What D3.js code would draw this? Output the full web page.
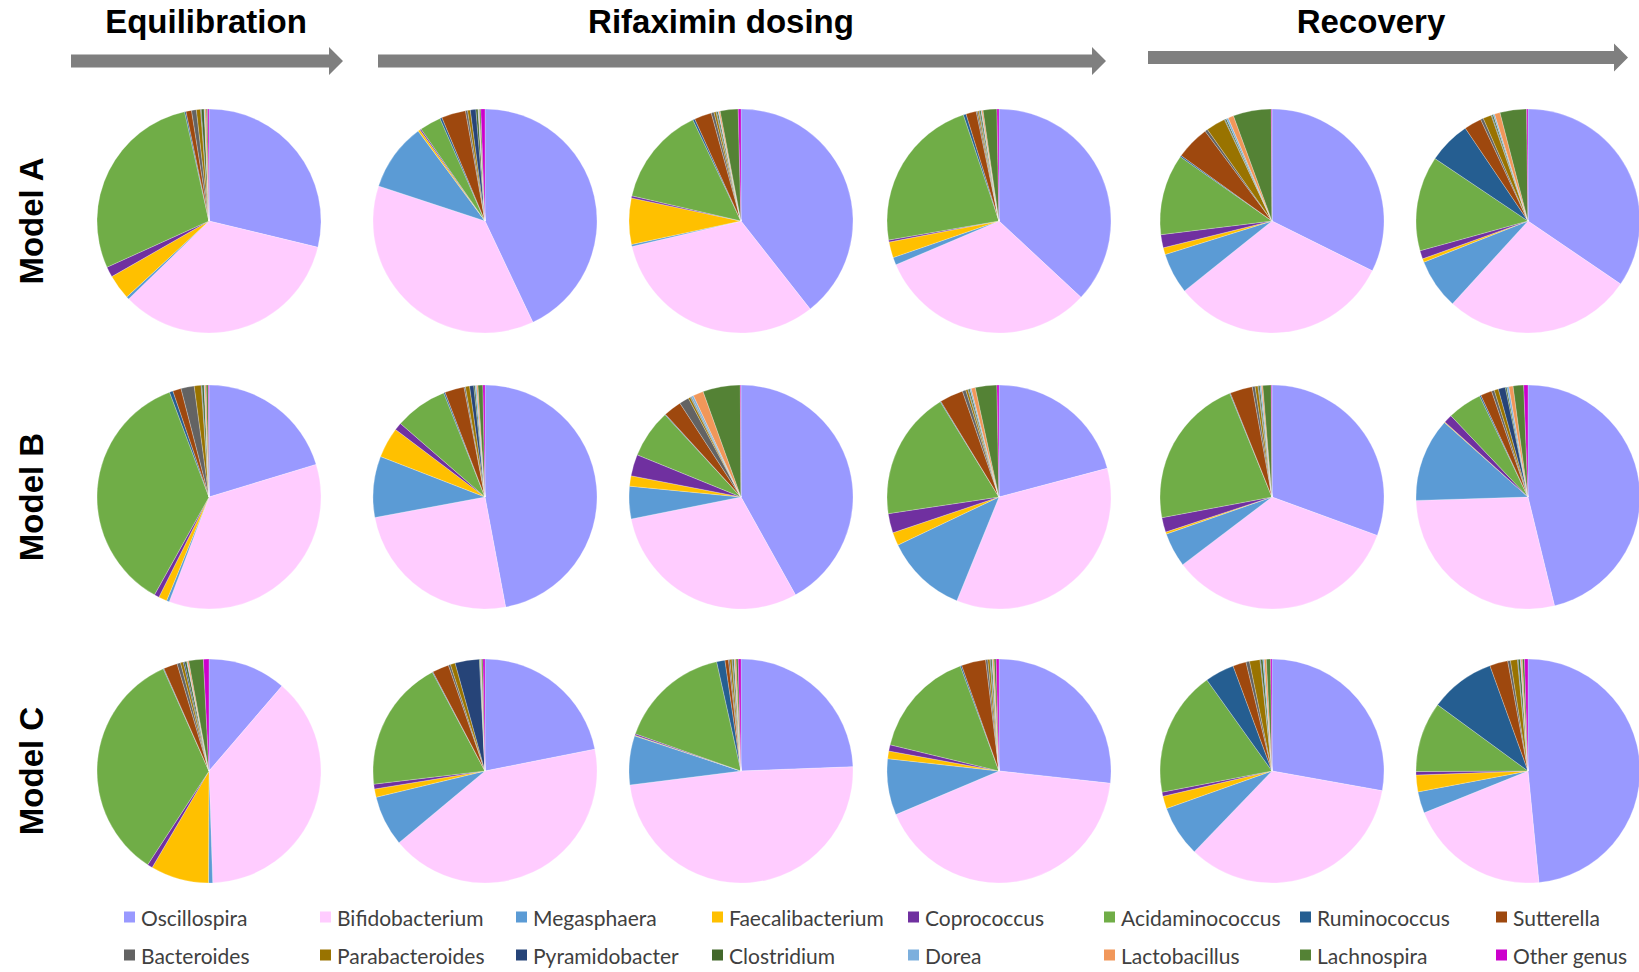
<!DOCTYPE html>
<html>
<head>
<meta charset="utf-8">
<script src="https://cdn.jsdelivr.net/npm/d3@7/dist/d3.min.js"></script>
<style>
  html, body { margin: 0; padding: 0; background: #fff; }
  svg { display: block; }
</style>
</head>
<body>
<svg id="chart" width="1639" height="972"></svg>
<script>
// Genera, in slice order (clockwise from 12 o'clock) and legend order
const genera = ["Oscillospira", "Bifidobacterium", "Megasphaera", "Faecalibacterium",
  "Coprococcus", "Acidaminococcus", "Ruminococcus", "Sutterella",
  "Bacteroides", "Parabacteroides", "Pyramidobacter", "Clostridium",
  "Dorea", "Lactobacillus", "Lachnospira", "Other genus"];

const generaColors = ["#9999ff", "#ffccff", "#5b9bd5", "#ffc000",
  "#7030a0", "#70ad47", "#255e91", "#9e480e",
  "#636363", "#997300", "#264478", "#43682b",
  "#7cafdd", "#f1975a", "#548235", "#cc00cc"];

const stages = ["Equilibration", "Rifaximin dosing", "Recovery"];
const models = ["Model A", "Model B", "Model C"];

// Relative abundance (%) per sample: six time points per model
const modelA = [
  [28.8, 34.0, 0.4, 3.6, 1.5, 28.3, 0.2, 0.8, 0.7, 0.6, 0.1, 0.4, 0.1, 0.2, 0.2, 0.2],
  [43.1, 37.2, 9.8, 0.3, 0.2, 3.1, 0.3, 3.5, 0.3, 0.4, 0.8, 0.3, 0.1, 0.1, 0.2, 0.6],
  [39.6, 32.1, 0.3, 6.7, 0.3, 14.4, 0.3, 2.5, 0.4, 0.3, 0.1, 0.2, 0.1, 0.2, 2.6, 0.4],
  [37.3, 32.0, 1.1, 2.3, 0.3, 22.8, 0.4, 1.5, 0.2, 0.2, 0.1, 0.2, 0.1, 0.2, 2.0, 0.3],
  [32.4, 32.0, 5.9, 1.0, 1.9, 11.7, 0.2, 4.9, 0.4, 2.8, 0.1, 0.2, 0.3, 0.8, 5.5, 0.1],
  [34.3, 27.1, 7.2, 0.5, 1.2, 13.6, 6.1, 2.5, 0.4, 1.2, 0.1, 0.2, 0.2, 0.8, 3.8, 0.2]
];
const modelB = [
  [20.2, 35.3, 0.4, 1.2, 0.7, 36.0, 0.5, 1.2, 1.9, 1.0, 0.1, 0.3, 0.1, 0.2, 0.3, 0.1],
  [47.0, 25.0, 8.8, 4.4, 1.1, 7.6, 0.2, 2.8, 0.2, 0.6, 0.6, 0.2, 0.2, 0.2, 0.7, 0.3],
  [42.0, 30.0, 4.7, 1.5, 3.1, 7.0, 0.1, 2.6, 1.4, 0.3, 0.1, 0.1, 0.3, 1.5, 5.4, 0.1],
  [20.9, 35.3, 11.8, 1.9, 2.8, 18.6, 0.1, 3.4, 0.5, 0.3, 0.1, 0.2, 0.2, 0.6, 3.1, 0.3],
  [30.3, 33.8, 4.9, 0.3, 2.1, 21.6, 0.1, 3.2, 0.4, 0.4, 0.1, 0.2, 0.2, 0.2, 1.2, 0.1],
  [45.5, 27.9, 11.9, 0.1, 1.2, 4.9, 0.2, 1.6, 0.4, 0.6, 1.0, 0.2, 0.3, 0.6, 1.5, 0.6]
];
const modelC = [
  [11.3, 38.2, 0.6, 8.4, 0.75, 34.1, 0.1, 2.0, 0.5, 0.4, 0.2, 0.3, 0.1, 0.2, 2.1, 0.8],
  [21.9, 42.1, 7.3, 1.2, 0.7, 19.1, 0.1, 2.4, 0.3, 0.7, 3.5, 0.1, 0.1, 0.1, 0.2, 0.3],
  [24.5, 48.8, 7.1, 0.1, 0.2, 16.2, 1.2, 0.5, 0.2, 0.3, 0.1, 0.2, 0.1, 0.2, 0.3, 0.4],
  [26.7, 41.8, 8.1, 1.1, 0.9, 15.6, 0.2, 3.5, 0.3, 0.3, 0.1, 0.2, 0.1, 0.2, 0.3, 0.4],
  [27.6, 34.1, 7.3, 1.8, 0.6, 18.0, 4.2, 1.9, 0.5, 1.5, 0.1, 0.3, 0.2, 0.3, 0.6, 0.2],
  [48.3, 20.4, 3.1, 2.4, 0.5, 10.1, 9.4, 2.6, 0.4, 1.0, 0.1, 0.3, 0.1, 0.2, 0.3, 0.5]
];

const modelData = [modelA, modelB, modelC];

// ---- layout ----
const svg = d3.select("#chart");
const colX = [209, 485, 741, 999, 1272, 1528];
const rowY = [221, 497, 771];
const radius = 112;

const color = d3.scaleOrdinal().domain(genera).range(generaColors);
const pie = d3.pie().sort(null).value(d => d.v);
const arc = d3.arc().innerRadius(0).outerRadius(radius);

// Pies
modelData.forEach((samples, r) => {
  samples.forEach((vals, c) => {
    const g = svg.append("g")
      .attr("class", "pie")
      .attr("transform", `translate(${colX[c]},${rowY[r]})`);
    const rows = vals.map((v, i) => ({ name: genera[i], v }));
    g.selectAll("path")
      .data(pie(rows))
      .join("path")
      .attr("d", arc)
      .attr("fill", d => color(d.data.name))
      .attr("stroke", "#ffffff")
      .attr("stroke-width", 0.35)
      .attr("stroke-opacity", 0.7);
  });
});

// Stage headers with arrows
const stageLayout = [
  { cx: 206, x0: 71, x1: 343, y: 61 },
  { cx: 721, x0: 378, x1: 1106, y: 61 },
  { cx: 1371, x0: 1148, x1: 1628, y: 57.5 }
];
const shaftHalf = 6.5, headHalf = 14, headLen = 14;
stageLayout.forEach((s, i) => {
  const p = d3.path();
  p.moveTo(s.x0, s.y - shaftHalf);
  p.lineTo(s.x1 - headLen, s.y - shaftHalf);
  p.lineTo(s.x1 - headLen, s.y - headHalf);
  p.lineTo(s.x1, s.y);
  p.lineTo(s.x1 - headLen, s.y + headHalf);
  p.lineTo(s.x1 - headLen, s.y + shaftHalf);
  p.lineTo(s.x0, s.y + shaftHalf);
  p.closePath();
  svg.append("path").attr("d", p.toString()).attr("fill", "#7f7f7f");

  svg.append("text")
    .attr("x", s.cx)
    .attr("y", 33)
    .attr("text-anchor", "middle")
    .style("font-family", "'Liberation Sans', Arial, sans-serif")
    .style("font-weight", "bold")
    .style("font-size", "33px")
    .attr("fill", "#000")
    .text(stages[i]);
});

// Model labels, rotated
models.forEach((m, r) => {
  svg.append("text")
    .attr("transform", `translate(31,${rowY[r]}) rotate(-90)`)
    .attr("text-anchor", "middle")
    .attr("dominant-baseline", "central")
    .style("font-family", "'Liberation Sans', Arial, sans-serif")
    .style("font-weight", "bold")
    .style("font-size", "33px")
    .attr("fill", "#000")
    .text(m);
});

// Legend: 2 rows x 8 columns
const legendX0 = 124, legendDX = 196;
const legendY = [917, 955];
const sq = 11;
const legend = svg.append("g").attr("class", "legend");
genera.forEach((name, i) => {
  const col = i % 8, row = Math.floor(i / 8);
  const x = legendX0 + col * legendDX, y = legendY[row];
  legend.append("rect")
    .attr("x", x).attr("y", y - sq / 2)
    .attr("width", sq).attr("height", sq)
    .attr("fill", color(name));
  legend.append("text")
    .attr("x", x + sq + 6)
    .attr("y", y)
    .attr("dominant-baseline", "central")
    .style("font-family", "Lato, sans-serif")
    .style("font-size", "21px")
    .attr("fill", "#404040")
    .text(name);
});
</script>
</body>
</html>
